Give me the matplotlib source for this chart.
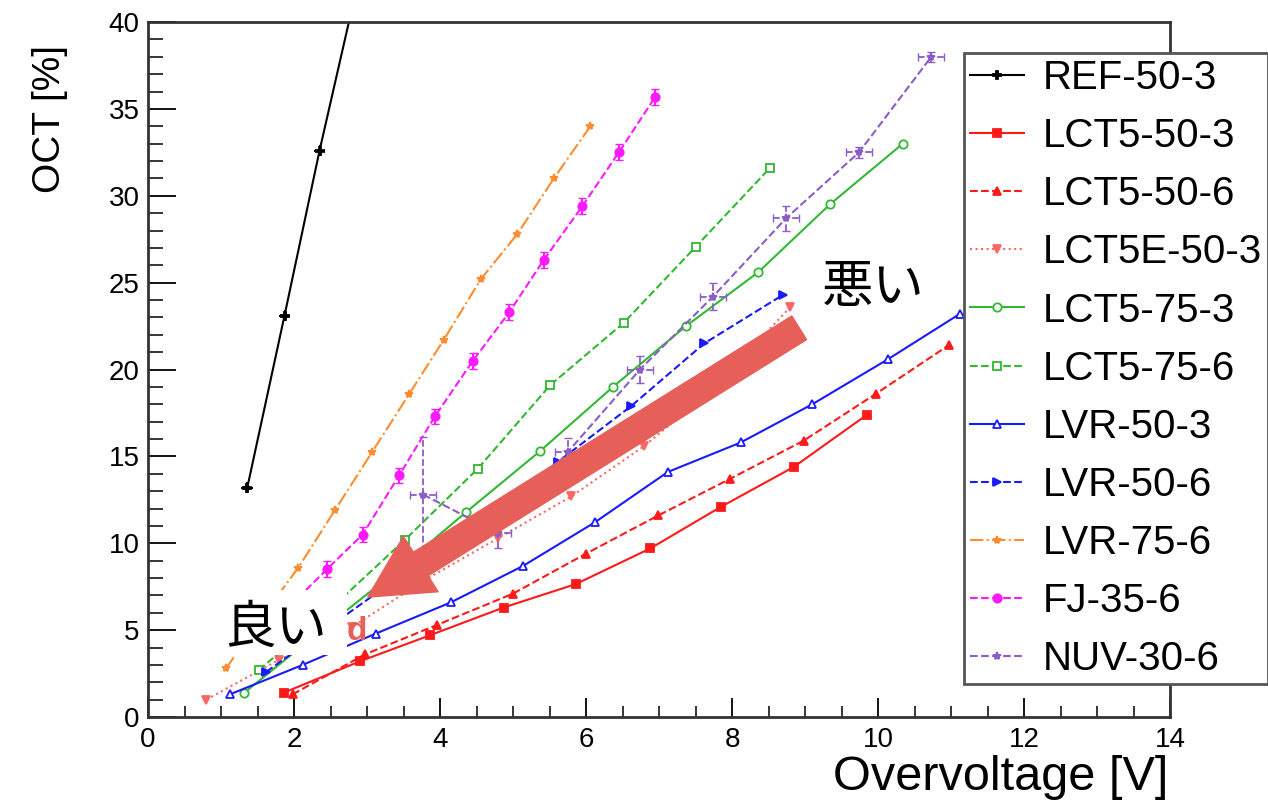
import matplotlib
matplotlib.use("Agg")
import matplotlib.pyplot as plt
from matplotlib.patches import FancyArrowPatch, Rectangle
from matplotlib.ticker import MultipleLocator

plt.rcParams['font.family'] = ['Liberation Sans', 'Noto Sans CJK JP', 'DejaVu Sans']

# values: overvoltage [V] vs OCT [%]
labels = ["REF-50-3", "LCT5-50-3", "LCT5-50-6", "LCT5E-50-3", "LCT5-75-3", "LCT5-75-6",
          "LVR-50-3", "LVR-50-6", "LVR-75-6", "FJ-35-6", "NUV-30-6"]

ref_x = [1.36, 1.87, 2.35, 2.85]
ref_y = [13.2, 23.1, 32.6, 41.8]
lct5_50_3_x = [1.86, 2.9, 3.86, 4.87, 5.86, 6.88, 7.85, 8.85, 9.85]
lct5_50_3_y = [1.4, 3.2, 4.7, 6.3, 7.65, 9.7, 12.1, 14.4, 17.4]
lct5_50_6_x = [1.98, 2.97, 3.96, 5.0, 6.0, 6.99, 7.97, 8.98, 9.97, 10.97]
lct5_50_6_y = [1.3, 3.6, 5.3, 7.1, 9.4, 11.6, 13.7, 15.9, 18.6, 21.4]
lct5e_50_3_x = [0.8, 1.8, 2.8, 3.8, 4.8, 5.8, 6.8, 7.77, 8.8]
lct5e_50_3_y = [1.0, 3.3, 5.2, 7.9, 10.3, 12.7, 15.6, 19.0, 23.6]
lct5_75_3_x = [1.32, 2.35, 3.37, 4.36, 5.37, 6.37, 7.37, 8.36, 9.34, 10.34]
lct5_75_3_y = [1.4, 4.9, 8.3, 11.8, 15.3, 19.0, 22.5, 25.6, 29.5, 33.0]
lct5_75_6_x = [1.52, 2.52, 3.52, 4.52, 5.51, 6.52, 7.5, 8.52]
lct5_75_6_y = [2.7, 6.3, 10.2, 14.3, 19.1, 22.7, 27.05, 31.6]
lvr_50_3_x = [1.12, 2.12, 3.12, 4.15, 5.14, 6.12, 7.12, 8.12, 9.1, 10.14, 11.12]
lvr_50_3_y = [1.3, 3.0, 4.8, 6.6, 8.7, 11.2, 14.1, 15.8, 18.0, 20.6, 23.2]
lvr_50_6_x = [1.62, 2.62, 3.62, 4.62, 5.62, 6.62, 7.62, 8.7]
lvr_50_6_y = [2.6, 5.6, 8.6, 11.6, 14.7, 17.9, 21.5, 24.3]
lvr_75_6_x = [1.07, 1.55, 2.06, 2.56, 3.07, 3.58, 4.05, 4.56, 5.06, 5.56, 6.06]
lvr_75_6_y = [2.8, 5.7, 8.6, 11.9, 15.25, 18.6, 21.7, 25.2, 27.8, 31.0, 34.0]
fj_x = [1.95, 2.45, 2.94, 3.44, 3.93, 4.45, 4.95, 5.42, 5.95, 6.45, 6.95]
fj_y = [6.4, 8.5, 10.5, 13.9, 17.3, 20.5, 23.3, 26.3, 29.4, 32.5, 35.7]
nuv_x = [3.77, 4.79, 5.75, 6.74, 7.74, 8.74, 9.74, 10.73]
nuv_y = [12.8, 10.6, 15.25, 20.0, 24.2, 28.7, 32.5, 38.0]

# error bars
ref_xerr = [0.08, 0.08, 0.08, 0.08]
ref_yerr = [0.3, 0.3, 0.3, 0.3]
fj_yerr = [0.45] * len(fj_x)
nuv_xerr = [0.18] * len(nuv_x)
nuv_yerr = [3.3, 0.9, 0.8, 0.8, 0.8, 0.7, 0.3, 0.3]

xs = [ref_x, lct5_50_3_x, lct5_50_6_x, lct5e_50_3_x, lct5_75_3_x, lct5_75_6_x,
      lvr_50_3_x, lvr_50_6_x, lvr_75_6_x, fj_x, nuv_x]
ys = [ref_y, lct5_50_3_y, lct5_50_6_y, lct5e_50_3_y, lct5_75_3_y, lct5_75_6_y,
      lvr_50_3_y, lvr_50_6_y, lvr_75_6_y, fj_y, nuv_y]

colors = ['black', '#ff1a1a', '#ff1a1a', '#ff6666', '#33b833', '#33b833',
          '#1a1aff', '#1a1aff', '#ff8c2e', '#ff19ff', '#8c5cc8']
styles = ['-', '-', '--', ':', '-', '--', '-', '--', '-.', '--', '--']
markers = ['P', 's', '^', 'v', 'o', 's', '^', '>', '*', 'o', '*']
filled = [True, True, True, True, False, False, False, True, True, True, True]

fig = plt.figure(figsize=(12.68, 8.06), dpi=100)
W, H = 1268, 806
ax = fig.add_axes([148 / W, 1 - 717 / H, (1170 - 148) / W, (717 - 22) / H])

for i in range(len(labels)):
    ax.plot(xs[i], ys[i], color=colors[i], ls=styles[i], lw=1.5,
            marker=markers[i], ms=6, mew=1.3,
            mfc=colors[i] if filled[i] else 'white', mec=colors[i], label=labels[i])

ax.errorbar(ref_x, ref_y, xerr=ref_xerr, yerr=ref_yerr, fmt='none', ecolor='black', elinewidth=1.5, capsize=0)
ax.errorbar(fj_x, fj_y, yerr=fj_yerr, fmt='none', ecolor='#ff19ff', elinewidth=1.5, capsize=3)
eb = ax.errorbar(nuv_x, nuv_y, xerr=nuv_xerr, yerr=nuv_yerr, fmt='none', ecolor='#8c5cc8',
                 elinewidth=1.3, capsize=3)
for c in eb[2]:
    c.set_linestyle('--')

ax.set_xlim(0, 14)
ax.set_ylim(0, 40)
ax.xaxis.set_major_locator(MultipleLocator(2))
ax.xaxis.set_minor_locator(MultipleLocator(0.5))
ax.yaxis.set_major_locator(MultipleLocator(5))
ax.yaxis.set_minor_locator(MultipleLocator(1))
ax.tick_params(axis='x', which='major', direction='in', length=14, width=1.3, labelsize=20, pad=7)
ax.tick_params(axis='x', which='minor', direction='in', length=8, width=1.1)
ax.tick_params(axis='y', which='major', direction='in', length=20, width=1.3, labelsize=20, pad=6)
ax.tick_params(axis='y', which='minor', direction='in', length=11, width=1.1)
for s in ax.spines.values():
    s.set_linewidth(2)
    s.set_color('#333333')

# big arrow
arrow = FancyArrowPatch(posA=(8.92, 22.4), posB=(3.01, 6.9),
                        arrowstyle='simple,head_width=4.7,head_length=4.5,tail_width=2.0',
                        mutation_scale=10, color='#e65f58', shrinkA=0, shrinkB=0, zorder=6)
ax.add_patch(arrow)

leg = ax.legend(loc='upper left', bbox_to_anchor=(964 / W, 1 - 53 / H), bbox_transform=fig.transFigure,
                fontsize=29, handlelength=1.35, handletextpad=0.45, borderpad=0.15, labelspacing=0.5,
                fancybox=False, framealpha=1, edgecolor='#555555', borderaxespad=0)
leg.get_frame().set_linewidth(2)
leg.set_zorder(10)

# axis titles
fig.text(1168 / W, 1 - 778 / H, 'Overvoltage [V]', fontsize=35, ha='right', va='center')
fig.text(50 / W, 1 - 45 / H, 'OCT [%]', fontsize=28, rotation=90, ha='center', va='top')

# annotations
fig.text(357 / W, 1 - 632 / H, 'd', fontsize=24, fontweight='bold', color='#e65f58',
         ha='center', va='center', zorder=4)
fig.add_artist(Rectangle((218 / W, 1 - 655 / H), 129 / W, 65 / H, transform=fig.transFigure,
                         facecolor='white', edgecolor='none', zorder=5))
fig.text(275 / W, 1 - 628 / H, '良い', fontsize=37, ha='center', va='center', zorder=6,
         family=['Noto Sans CJK JP'])
fig.text(873 / W, 1 - 287 / H, '悪い', fontsize=37, ha='center', va='center', zorder=6,
         family=['Noto Sans CJK JP'])
fig.text(977 / W, 1.012, 'y', fontsize=34, ha='center', va='baseline')

fig.savefig('out.png', dpi=100)
